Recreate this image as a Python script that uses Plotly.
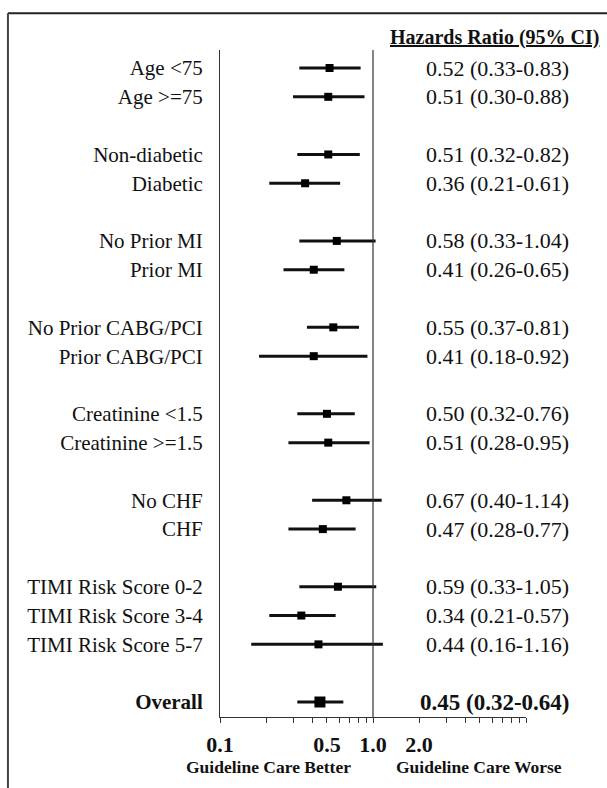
import plotly.graph_objects as go

# ---- data ----
groups = [
    ["Age <75", "Age >=75"],
    ["Non-diabetic", "Diabetic"],
    ["No Prior MI", "Prior MI"],
    ["No Prior CABG/PCI", "Prior CABG/PCI"],
    ["Creatinine <1.5", "Creatinine >=1.5"],
    ["No CHF", "CHF"],
    ["TIMI Risk Score 0-2", "TIMI Risk Score 3-4", "TIMI Risk Score 5-7"],
    ["Overall"],
]
hr = [0.52, 0.51, 0.51, 0.36, 0.58, 0.41, 0.55, 0.41, 0.50, 0.51, 0.67, 0.47, 0.59, 0.34, 0.44, 0.45]
lo = [0.33, 0.30, 0.32, 0.21, 0.33, 0.26, 0.37, 0.18, 0.32, 0.28, 0.40, 0.28, 0.33, 0.21, 0.16, 0.32]
hi = [0.83, 0.88, 0.82, 0.61, 1.04, 0.65, 0.81, 0.92, 0.76, 0.95, 1.14, 0.77, 1.05, 0.57, 1.16, 0.64]
tick_vals = [0.1, 0.2, 0.3, 0.4, 0.5, 0.6, 0.7, 0.8, 0.9, 1, 2, 3, 4, 5, 6, 7, 8, 9, 10]
tick_labels = {0.1: "0.1", 0.5: "0.5", 1: "1.0", 2: "2.0"}
header = "Hazards Ratio (95% CI)"
left_note = "Guideline Care Better"
right_note = "Guideline Care Worse"

# ---- layout of rows (one blank row between groups) ----
labels, pos = [], []
r = 0
for g in groups:
    for name in g:
        labels.append(name)
        pos.append(r)
        r += 1
    r += 1

n = len(labels)
overall = n - 1
FONT = "Liberation Serif, Times New Roman, serif"
INK = "#111"

fig = go.Figure()

# CI lines
cx, cy = [], []
for i in range(n):
    cx += [lo[i], hi[i], None]
    cy += [pos[i], pos[i], None]
fig.add_trace(go.Scatter(x=cx, y=cy, mode="lines", line=dict(color=INK, width=3),
                         hoverinfo="skip", showlegend=False))
# point estimates
fig.add_trace(go.Scatter(
    x=hr, y=pos, mode="markers",
    marker=dict(symbol="square", color="#000", opacity=1,
                size=[11 if i == overall else 8 for i in range(n)], line=dict(width=0)),
    showlegend=False))

# reference line at 1
fig.add_shape(type="line", xref="x", yref="paper", x0=1, x1=1, y0=0, y1=1,
              line=dict(color="#333", width=1.2))

# HR text on right
for i in range(n):
    txt = f"{hr[i]:.2f} ({lo[i]:.2f}-{hi[i]:.2f})"
    size = 22
    if i == overall:
        txt = f"<b>{txt}</b>"
        size = 23
    fig.add_annotation(xref="paper", yref="y", x=1.147, y=pos[i], text=txt,
                       showarrow=False, xanchor="right", yanchor="middle",
                       font=dict(family=FONT, size=size, color=INK))

fig.add_annotation(xref="paper", yref="paper", x=1.245, y=1.019,
                   text=f"<u><b>{header}</b></u>", showarrow=False,
                   xanchor="right", yanchor="middle",
                   font=dict(family=FONT, size=20, color=INK))

fig.add_annotation(xref="paper", yref="paper", x=0.157, y=-0.075,
                   text=f"<b>{left_note}</b>", showarrow=False,
                   xanchor="center", yanchor="middle",
                   font=dict(family=FONT, size=17.5, color=INK))
fig.add_annotation(xref="paper", yref="paper", x=0.846, y=-0.075,
                   text=f"<b>{right_note}</b>", showarrow=False,
                   xanchor="center", yanchor="middle",
                   font=dict(family=FONT, size=17.5, color=INK))

# outer frame (top and left edges visible)
fig.add_shape(type="line", xref="paper", yref="paper", x0=-0.693, x1=1.5, y0=1.055, y1=1.055,
              line=dict(color="#222", width=2))
fig.add_shape(type="line", xref="paper", yref="paper", x0=-0.693, x1=-0.693, y0=1.055, y1=-0.2,
              line=dict(color="#444", width=2))

ticktext = []
for v in tick_vals:
    ticktext.append(f"<b>{tick_labels[v]}</b>" if v in tick_labels else "")

ylabels = [f"<b>{l}</b>" if i == overall else l for i, l in enumerate(labels)]

row_px = 28.82
fig.update_layout(
    width=607, height=788,
    margin=dict(l=220, r=81, t=50, b=71, pad=0),
    plot_bgcolor="white", paper_bgcolor="white",
    font=dict(family=FONT, color=INK),
    xaxis=dict(type="log", range=[-1, 1], tickvals=tick_vals, ticktext=ticktext,
               ticks="outside", ticklen=5, tickwidth=1, tickcolor="#333",
               showline=True, linecolor="#333", linewidth=1, showgrid=False,
               zeroline=False, tickfont=dict(family=FONT, size=22, color=INK),
               ticklabelstandoff=3),
    yaxis=dict(range=[22 + 15 / row_px, -18 / row_px], tickvals=pos, ticktext=ylabels,
               showline=True, linecolor="#333", linewidth=1, showgrid=False,
               zeroline=False, ticks="", tickfont=dict(family=FONT, size=21, color=INK),
               ticklabelstandoff=12),
)

fig.write_html("out.html", config={"displayModeBar": False},
               post_script="document.body.style.margin='0px';document.body.style.overflow='hidden';")
